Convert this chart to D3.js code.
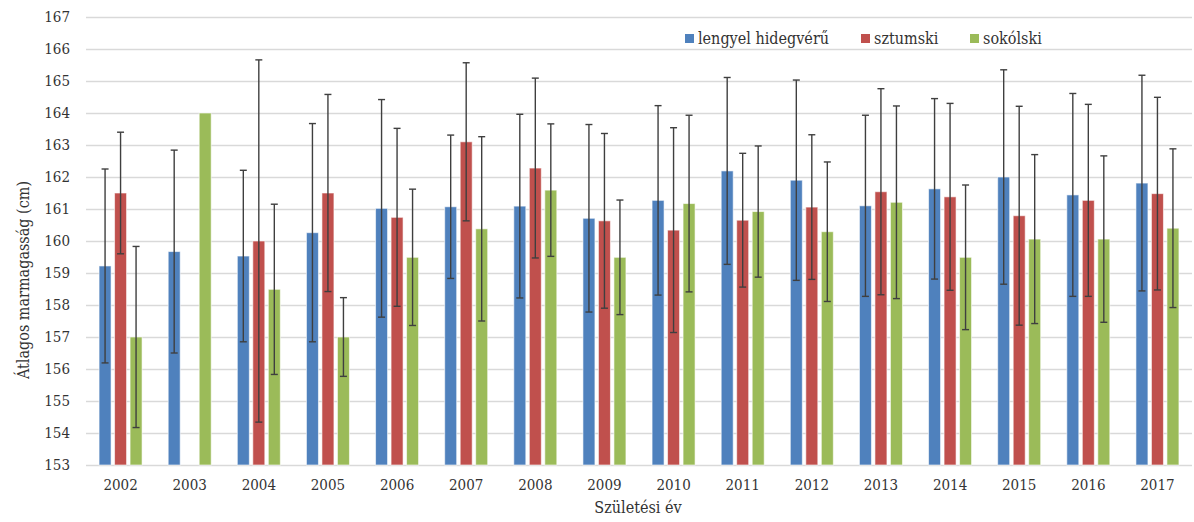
<!DOCTYPE html>
<html>
<head>
<meta charset="utf-8">
<script src="https://cdn.jsdelivr.net/npm/d3@7"></script>
<style>
  html, body { margin: 0; padding: 0; background: #fff; }
  svg text { font-family: "DejaVu Serif Condensed", "DejaVu Serif", serif; font-stretch: condensed; }
</style>
</head>
<body>
<svg id="chart" width="1194" height="522"></svg>
<script>
// Születési évek
const years = ["2002","2003","2004","2005","2006","2007","2008","2009","2010","2011","2012","2013","2014","2015","2016","2017"];
const seriesNames = ["lengyel hidegvérű", "sztumski", "sokólski"];
const seriesColors = ["#4F81BD", "#C0504D", "#9BBB59"];

// Átlagos marmagasság (cm), fajtánként
const lengyelMean = [159.22, 159.67, 159.53, 160.26, 161.02, 161.07, 161.09, 160.71, 161.27, 162.19, 161.9, 161.1, 161.63, 162.0, 161.44, 161.81];
const sztumskiMean = [161.5, null, 160.0, 161.5, 160.74, 163.1, 162.28, 160.63, 160.34, 160.65, 161.06, 161.54, 161.38, 160.79, 161.27, 161.48];
const sokolskiMean = [157.0, 164.0, 158.49, 157.0, 159.49, 160.38, 161.59, 159.49, 161.17, 160.92, 160.29, 161.21, 159.49, 160.06, 160.06, 160.4];

// Szórás (hibasávok)
const lengyelSd = [3.03, 3.17, 2.68, 3.41, 3.4, 2.24, 2.87, 2.93, 2.96, 2.92, 3.13, 2.83, 2.82, 3.35, 3.17, 3.37];
const sztumskiSd = [1.9, null, 5.66, 3.08, 2.78, 2.47, 2.81, 2.73, 3.2, 2.09, 2.26, 3.22, 2.92, 3.42, 3.0, 3.01];
const sokolskiSd = [2.83, null, 2.66, 1.23, 2.13, 2.88, 2.07, 1.79, 2.76, 2.05, 2.18, 3.01, 2.26, 2.64, 2.6, 2.48];

const yTicks = d3.range(153, 168, 1);

const means = [lengyelMean, sztumskiMean, sokolskiMean];
const sds = [lengyelSd, sztumskiSd, sokolskiSd];

const svg = d3.select("#chart");

const y = d3.scaleLinear().domain([153, 167]).range([465, 17]);
const x = d3.scaleBand().domain(years).range([86, 1192]).paddingInner(0).paddingOuter(0);
const sub = d3.scalePoint().domain(d3.range(seriesNames.length)).range([-15.5, 15.5]);
const barW = 12;

// Vízszintes rácsvonalak
const yAxis = d3.axisLeft(y).tickValues(yTicks).tickSize(-(1192 - 86)).tickFormat(d3.format("d"));
const gy = svg.append("g").attr("transform", "translate(86,0)").call(yAxis).attr("font-family", null);
gy.select(".domain").remove();
gy.selectAll(".tick line").attr("stroke", "#d9d9d9").attr("stroke-width", 1.3);
gy.selectAll(".tick text")
  .attr("x", -16)
  .attr("fill", "#333")
  .style("font-size", "15px");

// Kategória-tengely
const xAxis = d3.axisBottom(x).tickSize(0).tickPadding(14);
const gx = svg.append("g").attr("transform", "translate(0,465)").call(xAxis).attr("font-family", null);
gx.select(".domain").remove();
gx.selectAll(".tick text")
  .attr("fill", "#333")
  .style("font-size", "15px");

// Oszlopok
const barsData = [];
years.forEach((yr, i) => {
  means.forEach((arr, s) => {
    if (arr[i] != null) barsData.push({ yr, s, v: arr[i], sd: sds[s][i] });
  });
});

svg.append("g").selectAll("rect").data(barsData).join("rect")
  .attr("x", d => x(d.yr) + x.bandwidth() / 2 + sub(d.s) - barW / 2)
  .attr("y", d => y(d.v))
  .attr("width", barW)
  .attr("height", d => y(153) - y(d.v))
  .attr("fill", d => seriesColors[d.s])
  .attr("stroke", "#ffffff")
  .attr("stroke-opacity", 0.6)
  .attr("stroke-width", 1);

// Hibasávok
const errData = barsData.filter(d => d.sd != null);
const eg = svg.append("g").attr("stroke", "#3f3f3f").attr("stroke-width", 1.4).attr("fill", "none");
errData.forEach(d => {
  const cx = x(d.yr) + x.bandwidth() / 2 + sub(d.s);
  const top = y(d.v + d.sd);
  const bot = y(d.v - d.sd);
  eg.append("line").attr("x1", cx).attr("x2", cx).attr("y1", top).attr("y2", bot);
  eg.append("line").attr("x1", cx - 3.5).attr("x2", cx + 3.5).attr("y1", top).attr("y2", top);
  eg.append("line").attr("x1", cx - 3.5).attr("x2", cx + 3.5).attr("y1", bot).attr("y2", bot);
});

// Tengelycímek
svg.append("text")
  .attr("transform", "translate(24,280) rotate(-90)")
  .attr("text-anchor", "middle")
  .attr("dominant-baseline", "middle")
  .attr("fill", "#333")
  .style("font-size", "16px")
  .text("Átlagos marmagasság (cm)");

svg.append("text")
  .attr("x", 638)
  .attr("y", 513)
  .attr("text-anchor", "middle")
  .attr("fill", "#333")
  .style("font-size", "16px")
  .text("Születési év");

// Jelmagyarázat
const legendX = [685, 861, 970];
const lg = svg.append("g");
seriesNames.forEach((name, s) => {
  lg.append("rect")
    .attr("x", legendX[s]).attr("y", 34)
    .attr("width", 9).attr("height", 9)
    .attr("fill", seriesColors[s]);
  lg.append("text")
    .attr("x", legendX[s] + 13).attr("y", 44)
    .attr("fill", "#333")
    .style("font-size", "16px")
    .text(name);
});
</script>
</body>
</html>
